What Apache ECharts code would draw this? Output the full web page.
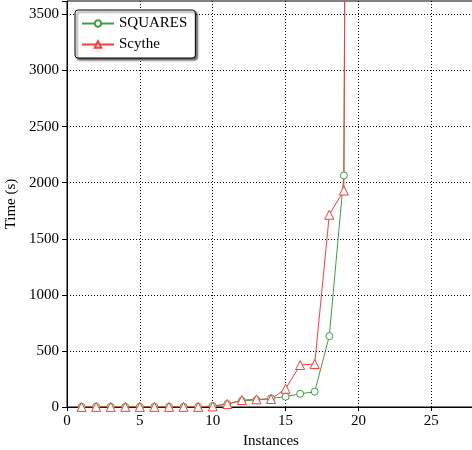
<!DOCTYPE html>
<html>
<head>
<meta charset="utf-8">
<script src="https://cdn.jsdelivr.net/npm/echarts@6/dist/echarts.min.js"></script>
<style>
  html, body { margin: 0; padding: 0; background: #fff; }
  #main { width: 472px; height: 450px; }
  .preload { position: absolute; left: -1000px; top: 0; font-family: 'Liberation Serif'; font-size: 15px; }
</style>
</head>
<body>
<span class="preload">SQUARES Scythe 0123456789 Time Instances</span>
<div id="main"></div>
<script>
// instance index on the x axis
const instances = [1, 2, 3, 4, 5, 6, 7, 8, 9, 10, 11, 12, 13, 14, 15, 16, 17, 18, 19, 20];
// time in seconds, last point is far off the top of the chart
const squares = [2, 2, 2, 2, 2, 2, 2, 2, 2, 9, 27, 56, 62, 77, 92, 118, 136, 632, 2064, 31000];
const scythe = [1, 1, 1, 1, 1, 1, 1, 1, 1, 5, 27, 62, 68, 71, 163, 374, 383, 1714, 1930, 31000];
const xTicks = [0, 5, 10, 15, 20, 25];
const yTicks = [0, 500, 1000, 1500, 2000, 2500, 3000, 3500];

const font = 'Liberation Serif';
const green = '#3f9f3f';
const red = '#ff3b3b';

function pairs(xs, ys) {
  return xs.map((x, i) => [x, ys[i]]);
}

function draw() {
  const chart = echarts.init(document.getElementById('main'), null, { renderer: 'canvas' });
  const option = {
    animation: false,
    backgroundColor: '#fff',
    textStyle: { fontFamily: font },
    grid: {
      left: 67,
      top: 1,
      width: 408,
      height: 406,
      containLabel: false,
      outerBoundsMode: 'none',
      show: true,
      borderColor: '#000',
      borderWidth: 1,
      backgroundColor: 'transparent'
    },
    legend: {
      orient: 'vertical',
      left: 75,
      top: 10,
      padding: [5, 8, 5, 6],
      itemGap: 4,
      itemWidth: 32,
      itemHeight: 8,
      itemTextGap: 12,
      backgroundColor: '#fff',
      borderColor: '#000',
      borderWidth: 1,
      borderRadius: 3,
      shadowColor: 'rgba(0,0,0,0.6)',
      shadowBlur: 2,
      shadowOffsetX: 2,
      shadowOffsetY: 2,
      textStyle: { fontFamily: font, fontSize: 15, color: '#000', lineHeight: 17 },
      data: ['SQUARES', 'Scythe']
    },
    xAxis: {
      type: 'value',
      min: 0,
      max: 28,
      interval: 5,
      name: 'Instances',
      nameLocation: 'middle',
      nameGap: 26,
      nameTextStyle: { fontFamily: font, fontSize: 15, color: '#000' },
      axisLine: { show: true, onZero: false, lineStyle: { color: '#000', width: 1 } },
      axisTick: { show: true, inside: false, length: 4, lineStyle: { color: '#000' } },
      axisLabel: {
        fontFamily: font, fontSize: 15, color: '#000', margin: 7,
        formatter: v => (xTicks.indexOf(v) >= 0 ? String(v) : '')
      },
      splitLine: { show: true, showMaxLine: false, lineStyle: { color: '#000', type: [1, 2], width: 1 } }
    },
    yAxis: {
      type: 'value',
      min: 0,
      max: 3620,
      interval: 500,
      name: 'Time (s)',
      nameLocation: 'middle',
      nameGap: 41,
      nameTextStyle: { fontFamily: font, fontSize: 15, color: '#000' },
      axisLine: { show: true, onZero: false, lineStyle: { color: '#000', width: 1 } },
      axisTick: { show: true, inside: false, length: 5, lineStyle: { color: '#000' } },
      axisLabel: {
        fontFamily: font, fontSize: 15, color: '#000', margin: 8,
        formatter: v => (yTicks.indexOf(v) >= 0 ? String(v) : '')
      },
      splitLine: { show: true, showMaxLine: false, lineStyle: { color: '#000', type: [1, 2], width: 1 } }
    },
    series: [
      {
        name: 'SQUARES',
        type: 'line',
        data: pairs(instances, squares),
        symbol: 'circle',
        symbolSize: 7,
        showAllSymbol: true,
        clip: true,
        lineStyle: { color: green, width: 1 },
        itemStyle: { color: '#fff', borderColor: green, borderWidth: 1 }
      },
      {
        name: 'Scythe',
        type: 'line',
        data: pairs(instances, scythe),
        symbol: 'triangle',
        symbolSize: 9,
        showAllSymbol: true,
        clip: true,
        lineStyle: { color: red, width: 1 },
        itemStyle: { color: '#fff', borderColor: red, borderWidth: 1 }
      }
    ]
  };
  chart.setOption(option);
}

if (document.fonts && document.fonts.load) {
  document.fonts.load("15px 'Liberation Serif'").then(draw, draw);
} else {
  draw();
}
</script>
</body>
</html>
